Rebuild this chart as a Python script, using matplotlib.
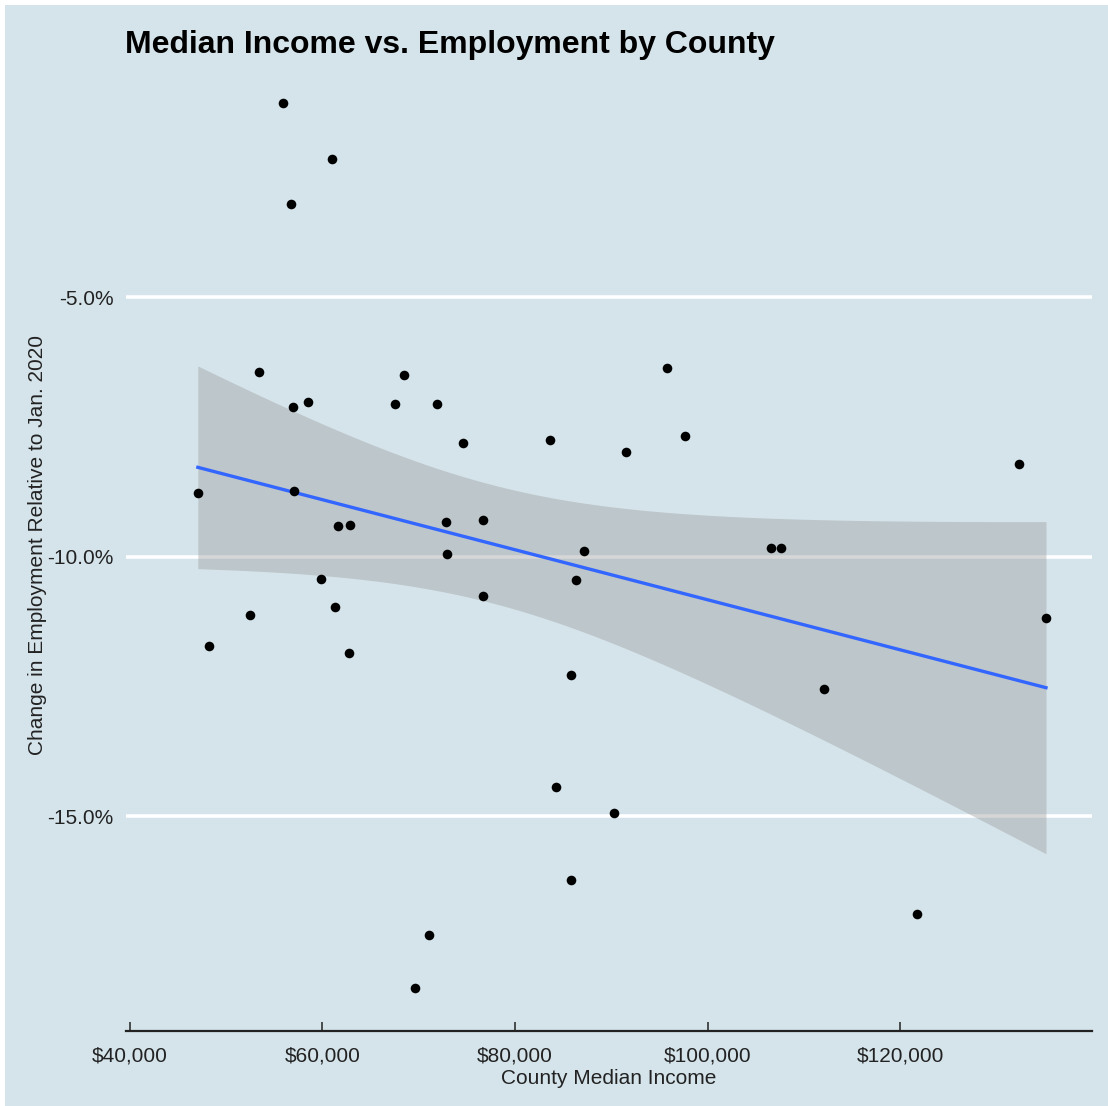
import numpy as np
import matplotlib
matplotlib.use("Agg")
import matplotlib.pyplot as plt
from matplotlib.patches import Rectangle
from matplotlib.ticker import FuncFormatter

plt.rcParams['font.family'] = ['Liberation Sans', 'DejaVu Sans']

income = [55890, 60980, 56720, 53400, 68450, 56930, 58480, 67520, 71880, 74580,
          83610, 95760, 97630, 91510, 47060, 57030, 61600, 62850, 72810, 76650,
          72920, 87140, 59830, 86310, 76650, 61290, 52460, 48200, 62740, 85790,
          106560, 107600, 112070, 132320, 135120, 84240, 90260, 85790, 121720,
          71050, 69600]
change = [-1.26, -2.34, -3.21, -6.45, -6.50, -7.12, -7.02, -7.06, -7.06, -7.81,
          -7.76, -6.37, -7.68, -7.99, -8.78, -8.74, -9.41, -9.39, -9.34, -9.30,
          -9.95, -9.89, -10.43, -10.45, -10.76, -10.97, -11.13, -11.72, -11.86, -12.28,
          -9.84, -9.84, -12.55, -8.22, -11.18, -14.44, -14.94, -16.23, -16.89,
          -17.29, -18.31]
x_ticks = [40000, 60000, 80000, 100000, 120000]
y_ticks = [-15.0, -10.0, -5.0]

title = "Median Income vs. Employment by County"
xlabel = "County Median Income"
ylabel = "Change in Employment Relative to Jan. 2020"

bg = "#d5e4eb"
W, H = 1108, 1106
fig = plt.figure(figsize=(W / 100, H / 100), dpi=100, facecolor="white")
fig.patches.append(Rectangle((5 / W, 0), 1, 1 - 5 / H, transform=fig.transFigure,
                             facecolor=bg, edgecolor="none", zorder=-10))

ax = fig.add_axes([126 / W, 1 - 1031 / H, (1092 - 126) / W, (1031 - 59) / H])
ax.set_facecolor(bg)

x = np.array(income, dtype=float)
y = np.array(change, dtype=float)

# linear fit with 95% confidence band
n = len(x)
X = np.column_stack([np.ones(n), x])
beta, *_ = np.linalg.lstsq(X, y, rcond=None)
resid = y - X @ beta
s2 = resid @ resid / (n - 2)
xs = np.linspace(x.min(), x.max(), 200)
xm = x.mean()
sxx = ((x - xm) ** 2).sum()
yhat = beta[0] + beta[1] * xs
se = np.sqrt(s2 * (1 / n + (xs - xm) ** 2 / sxx))
tcrit = 2.0227
ax.fill_between(xs, yhat - tcrit * se, yhat + tcrit * se, color="#999999",
                alpha=0.4, linewidth=0, zorder=2)
ax.plot(xs, yhat, color="#3366FF", linewidth=2.4, zorder=3)

ax.scatter(x, y, s=48, color="black", zorder=4, linewidths=0)

for yt in y_ticks:
    ax.axhline(yt, color="white", linewidth=2.6, zorder=1)

ax.set_xlim(39600, 139900)
ax.set_ylim(-19.14, -0.41)
ax.set_xticks(x_ticks)
ax.set_yticks(y_ticks)
ax.xaxis.set_major_formatter(FuncFormatter(lambda v, p: f"${v:,.0f}"))
ax.yaxis.set_major_formatter(FuncFormatter(lambda v, p: f"{v:.1f}%"))

for sp in ["top", "right", "left"]:
    ax.spines[sp].set_visible(False)
ax.spines["bottom"].set_linewidth(1.6)
ax.spines["bottom"].set_color("#222222")
ax.tick_params(axis="x", direction="in", length=6.5, width=1.1, color="#222222",
               labelsize=15, pad=11, labelcolor="#222222")
ax.tick_params(axis="y", length=0, labelsize=15, pad=9, labelcolor="#222222")

ax.set_xlabel(xlabel, fontsize=15, color="#222222", labelpad=3)
ax.set_ylabel(ylabel, fontsize=15, color="#222222", labelpad=0)

fig.text(125 / W, 1 - 45 / H, title, fontsize=23, fontweight="bold",
         ha="left", va="center", color="black")

fig.savefig("out.png", dpi=100, facecolor="white")
